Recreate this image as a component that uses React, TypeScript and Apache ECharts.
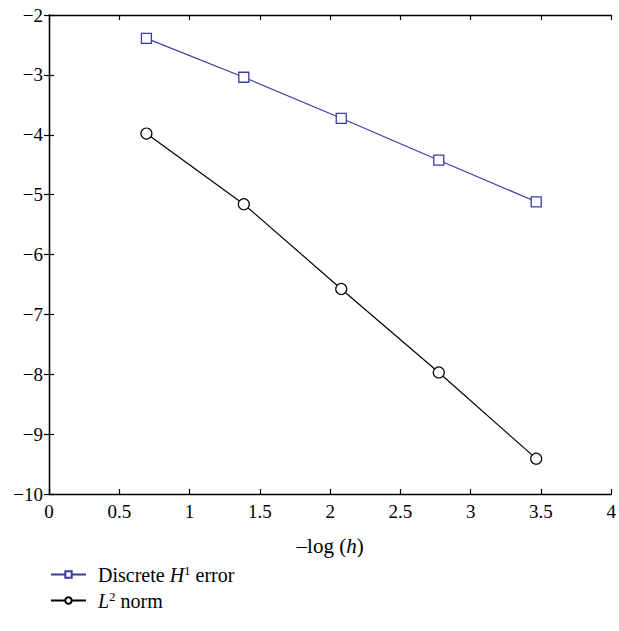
import React, { useEffect, useRef } from "react";
import * as echarts from "echarts";

const xValues = [0.693, 1.386, 2.079, 2.773, 3.466];
const h1Error = [-2.39, -3.04, -3.725, -4.425, -5.12];
const l2Norm = [-3.98, -5.16, -6.575, -7.97, -9.41];
const seriesNames = ["Discrete H1 error", "L2 norm"];

const BLUE = "#3b3ba6";
const FONT = "Liberation Serif";

const fmt = (v: number) => (v < 0 ? "\u2212" + Math.abs(v) : String(v));

export default function App() {
  const ref = useRef<HTMLDivElement>(null);
  useEffect(() => {
    document.body.style.margin = "0";
    const chart = echarts.init(ref.current!, undefined, { renderer: "svg" });
    const axisLine = { show: true, lineStyle: { color: "#000", width: 1.3 } };
    const tick = { show: true, inside: true, length: 5, lineStyle: { color: "#000", width: 1.2 } };
    chart.setOption({
      animation: false,
      backgroundColor: "#fff",
      textStyle: { fontFamily: FONT },
      grid: { left: 49, right: 4, top: 15, bottom: 137 },
      xAxis: [
        {
          type: "value",
          min: 0,
          max: 4,
          interval: 0.5,
          axisLine,
          axisTick: tick,
          splitLine: { show: false },
          axisLabel: { color: "#000", fontFamily: FONT, fontSize: 19, margin: 8, formatter: fmt },
          name: "{n|\u2013log (}{i|h}{n|)}",
          nameLocation: "middle",
          nameGap: 41,
          nameTextStyle: {
            fontFamily: FONT,
            rich: {
              n: { fontFamily: FONT, fontSize: 21, color: "#000" },
              i: { fontFamily: FONT, fontSize: 21, color: "#000", fontStyle: "italic" },
            },
          },
        },
        {
          type: "value",
          position: "top",
          min: 0,
          max: 4,
          interval: 0.5,
          axisLine,
          axisTick: tick,
          splitLine: { show: false },
          axisLabel: { show: false },
        },
      ],
      yAxis: [
        {
          type: "value",
          min: -10,
          max: -2,
          interval: 1,
          axisLine,
          axisTick: tick,
          splitLine: { show: false },
          axisLabel: { color: "#000", fontFamily: FONT, fontSize: 19, margin: 6, formatter: fmt },
        },
        {
          type: "value",
          position: "right",
          min: -10,
          max: -2,
          interval: 1,
          axisLine,
          axisTick: tick,
          splitLine: { show: false },
          axisLabel: { show: false },
        },
      ],
      legend: {
        orient: "vertical",
        left: 45,
        top: 559,
        itemWidth: 35,
        itemHeight: 8,
        itemGap: 5,
        data: seriesNames,
        formatter: (name: string) =>
          name === seriesNames[0]
            ? "{g| }{n|Discrete }{i|H}{s|1}{n| error}"
            : "{g| }{i|L}{s|2}{n| norm}",
        textStyle: {
          fontFamily: FONT,
          rich: {
            g: { width: 7, fontSize: 10, lineHeight: 21 },
            n: { fontFamily: FONT, fontSize: 20, color: "#000", verticalAlign: "bottom", lineHeight: 21 },
            i: { fontFamily: FONT, fontSize: 20, color: "#000", fontStyle: "italic", verticalAlign: "bottom", lineHeight: 21 },
            s: { fontFamily: FONT, fontSize: 13, color: "#000", verticalAlign: "top", lineHeight: 21, padding: [0, 0, 6, 0] },
          },
        },
      },
      series: [
        {
          name: seriesNames[0],
          type: "line",
          data: xValues.map((x, i) => [x, h1Error[i]]),
          symbol: "rect",
          symbolSize: 10,
          lineStyle: { color: BLUE, width: 1.2 },
          itemStyle: { color: "#fff", borderColor: BLUE, borderWidth: 1.3 },
        },
        {
          name: seriesNames[1],
          type: "line",
          data: xValues.map((x, i) => [x, l2Norm[i]]),
          symbol: "circle",
          symbolSize: 11,
          lineStyle: { color: "#000", width: 1.2 },
          itemStyle: { color: "#fff", borderColor: "#000", borderWidth: 1.2 },
        },
      ],
    });
    return () => chart.dispose();
  }, []);
  return <div ref={ref} style={{ width: 619, height: 631 }} />;
}
